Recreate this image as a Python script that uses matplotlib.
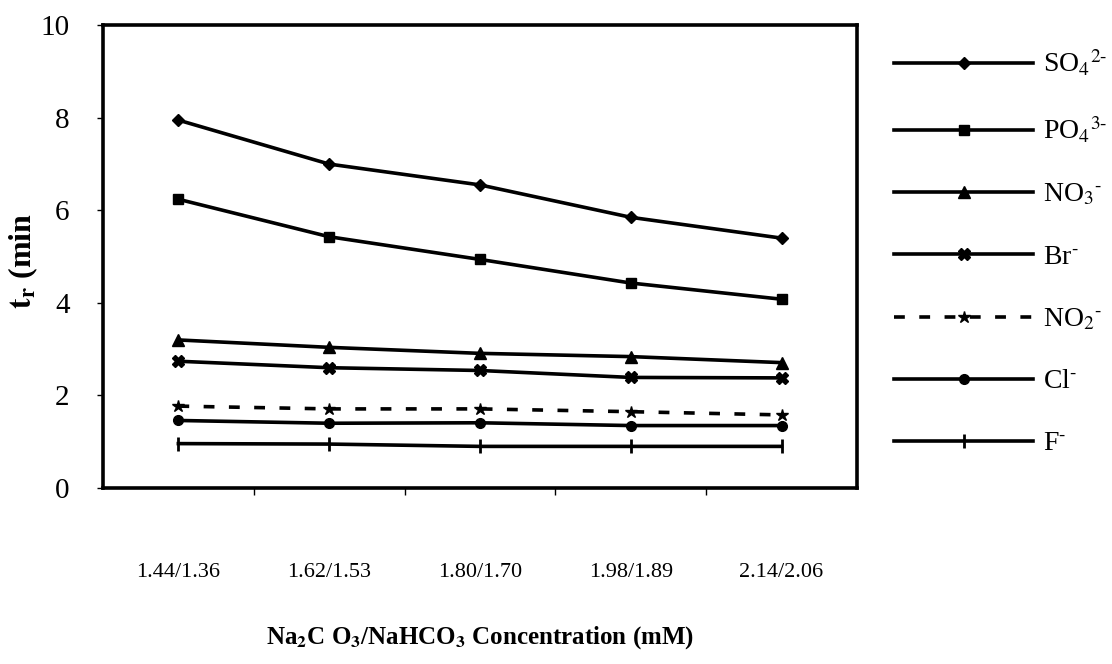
import matplotlib
matplotlib.use("Agg")
import matplotlib.pyplot as plt

plt.rcParams['font.family'] = ['Liberation Serif', 'DejaVu Serif']
plt.rcParams['mathtext.fontset'] = 'stix'

# Na2CO3/NaHCO3 concentrations (mM)
concentrations = ["1.44/1.36", "1.62/1.53", "1.80/1.70", "1.98/1.89", "2.14/2.06"]

# retention times (min)
so4 = [7.95, 7.00, 6.55, 5.85, 5.40]
po4 = [6.24, 5.43, 4.94, 4.43, 4.08]
no3 = [3.20, 3.04, 2.91, 2.84, 2.71]
br = [2.74, 2.60, 2.54, 2.39, 2.38]
no2 = [1.77, 1.71, 1.71, 1.65, 1.58]
cl = [1.46, 1.40, 1.41, 1.35, 1.35]
f = [0.96, 0.95, 0.90, 0.90, 0.90]

labels = [r'SO$_4$$^{2\text{-}}$', r'PO$_4$$^{3\text{-}}$', r'NO$_3$$^{\text{-}}$',
          r'Br$^{\text{-}}$', r'NO$_2$$^{\text{-}}$', r'Cl$^{\text{-}}$', r'F$^{\text{-}}$']
series = [so4, po4, no3, br, no2, cl, f]
markers = ['D', 's', '^', 'X', '*', 'o', '|']
msizes = [6, 7, 8, 8, 9, 7, 10]
styles = ['-', '-', '-', '-', (0, (3, 4)), '-', '-']

fig = plt.figure(figsize=(11.12, 6.64), dpi=100)
ax = fig.add_axes([0.0926, 0.265, 0.678, 0.697])

x = list(range(len(concentrations)))
for vals, lab, m, ms, ls in zip(series, labels, markers, msizes, styles):
    ax.plot(x, vals, color='black', lw=2.6, linestyle=ls, marker=m, markersize=ms,
            markeredgewidth=2 if m == '|' else 1, label=lab)

ax.set_xlim(-0.5, 4.5)
ax.set_ylim(0, 10)
ax.set_yticks([0, 2, 4, 6, 8, 10])
ax.set_xticks(x)
ax.set_xticklabels(concentrations, fontsize=16)
ax.set_xticks([0.5, 1.5, 2.5, 3.5], minor=True)
ax.tick_params(axis='x', which='major', length=0, pad=54)
ax.tick_params(axis='x', which='minor', length=5, width=1, direction='out')
ax.tick_params(axis='y', labelsize=21, length=4, width=1, direction='out', pad=20)

for sp in ax.spines.values():
    sp.set_linewidth(2.6)

ax.set_ylabel(r'$\mathbf{t}_{\mathbf{r}}$ (min', fontsize=23, fontweight='bold')
ax.yaxis.set_label_coords(-0.084, 0.49)
ax.set_xlabel(r'Na$_{\mathbf{2}}$C O$_{\mathbf{3}}$/NaHCO$_{\mathbf{3}}$ Concentration (mM)',
              fontsize=18, fontweight='bold', labelpad=30)

ax.legend(loc='upper left', bbox_to_anchor=(1.035, 0.975), frameon=False, fontsize=20,
          handlelength=5.0, handletextpad=0.35, labelspacing=1.32, borderaxespad=0)

fig.savefig("out.png", dpi=100)
